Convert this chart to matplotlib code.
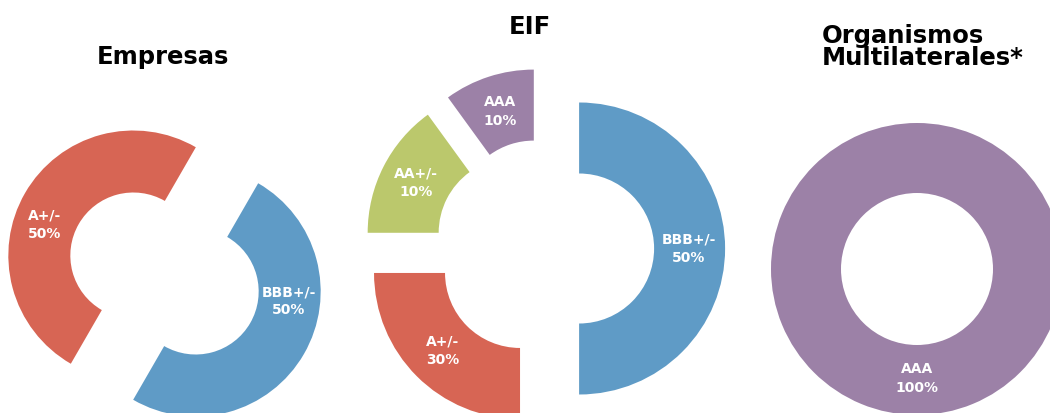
import matplotlib
matplotlib.use("Agg")
import matplotlib.pyplot as plt
import numpy as np

# data
empresas_labels = ["BBB+/-\n50%", "A+/-\n50%"]
empresas_values = [50, 50]
empresas_colors = ["#5F9BC6", "#D76554"]

eif_labels = ["BBB+/-\n50%", "A+/-\n30%", "AA+/-\n10%", "AAA\n10%"]
eif_values = [50, 25, 15, 10]
eif_colors = ["#5F9BC6", "#D76554", "#BBC86C", "#9C81A7"]

multi_labels = ["AAA\n100%"]
multi_values = [100]
multi_colors = ["#9C81A7"]

W, H = 1050, 413
fig = plt.figure(figsize=(W / 100, H / 100), dpi=100)
ax = fig.add_axes([0, 0, 1, 1])

FONT = "DejaVu Sans"


def donut(values, labels, colors, center, radius, hole, startangle,
          explode=0, label_shift=None):
    wedges, _ = ax.pie(values, colors=colors, center=center, radius=radius,
                       startangle=startangle, counterclock=False,
                       explode=[explode] * len(values),
                       wedgeprops=dict(width=radius - hole, linewidth=0))
    if label_shift is None:
        label_shift = [0] * len(values)
    # labels sit in the middle of the ring, white bold
    for w, lab, sh in zip(wedges, labels, label_shift):
        ang = np.deg2rad((w.theta1 + w.theta2) / 2 + sh)
        rr = 0.75 * radius
        cx, cy = w.center
        ax.text(cx + rr * np.cos(ang), cy + rr * np.sin(ang), lab,
                ha="center", va="center", color="white", fontsize=10,
                fontweight="bold", family=FONT, linespacing=1.4)


donut(empresas_values, empresas_labels, empresas_colors,
      center=(164.5, H - 273.5), radius=125, hole=63, startangle=60,
      explode=36, label_shift=[24, 11])
donut(eif_values, eif_labels, eif_colors,
      center=(544.5, H - 248.5), radius=146, hole=75, startangle=90,
      explode=34.6)
donut(multi_values, multi_labels, multi_colors,
      center=(917, H - 269), radius=146, hole=76, startangle=90)

title_kw = dict(fontsize=17.5, fontweight="bold", family=FONT, color="black")
ax.text(163, H - 57, "Empresas", ha="center", va="center", **title_kw)
ax.text(530, H - 27, "EIF", ha="center", va="center", **title_kw)
ax.text(822, H - 47, "Organismos\nMultilaterales*", ha="left", va="center",
        linespacing=0.85, **title_kw)

ax.set_xlim(0, W)
ax.set_ylim(0, H)
ax.set_aspect("auto")
ax.axis("off")

fig.savefig("out.png", dpi=100)
